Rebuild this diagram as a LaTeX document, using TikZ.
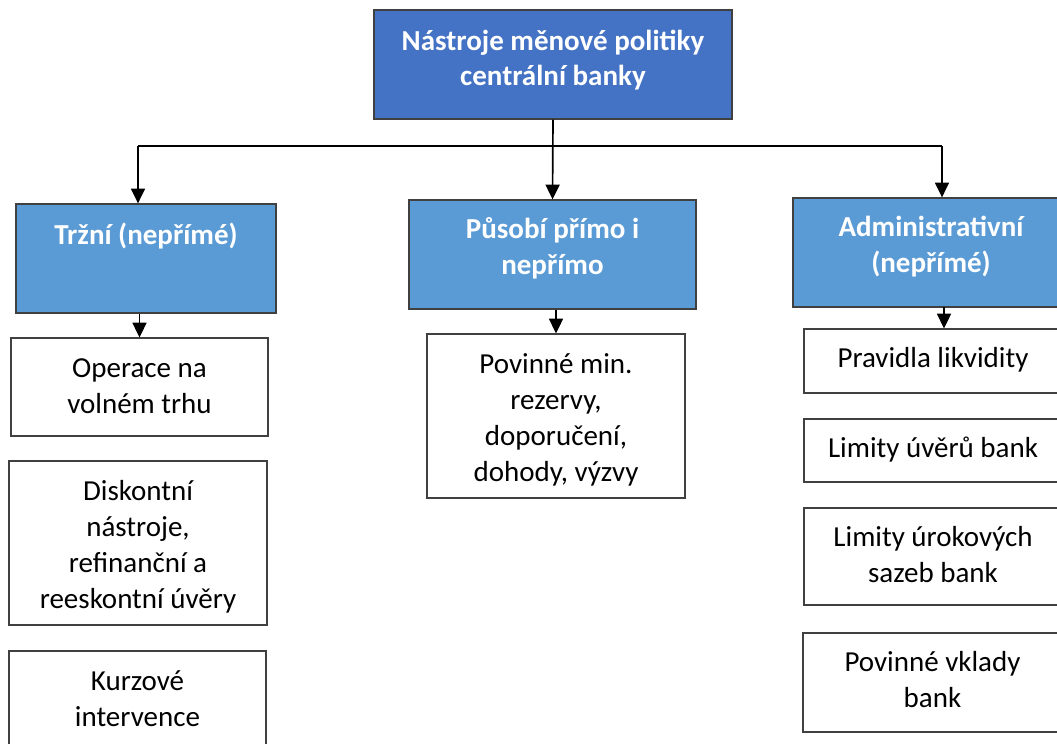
\documentclass[tikz,border=0pt]{standalone}
\usepackage{fontspec}
\setmainfont{Carlito}
\usetikzlibrary{arrows.meta,fit}
\definecolor{topblue}{HTML}{4472C4}
\definecolor{midblue}{HTML}{5B9BD5}
\definecolor{edgegray}{HTML}{404040}
\newcommand\bx[8]{%
  \path (#3,#4) coordinate (#1nw) (#5,#6) coordinate (#1se);
  \node[#2, fit=(#1nw)(#1se)] (#1) {};
  \node[#2text, anchor=base] (#1t) at ([yshift=-#7*0.75pt]#1.north)
    {\parbox[t]{300pt}{\centering #8}};
}
\begin{document}
\begin{tikzpicture}[x=0.75pt,y=-0.75pt,
  topbox/.style={draw=edgegray, line width=1pt, fill=topblue, inner sep=0pt},
  bluebox/.style={draw=edgegray, line width=1pt, fill=midblue, inner sep=0pt},
  whitebox/.style={draw=edgegray, line width=0.9pt, fill=white, inner sep=0pt},
  topboxtext/.style={inner sep=0pt, text=white, font=\fontsize{21.75pt}{26pt}\selectfont\bfseries},
  blueboxtext/.style={inner sep=0pt, text=white, font=\fontsize{21.75pt}{26.6pt}\selectfont\bfseries},
  whiteboxtext/.style={inner sep=0pt, text=black, font=\fontsize{21.75pt}{27pt}\selectfont},
  conn/.style={line width=1.25pt, black},
  arr/.style={conn, -{Triangle[width=10.5pt,length=11pt]}}
  ]
\useasboundingbox (0,0) rectangle (1057,743);
\begin{scope}
\clip (0,0) rectangle (1057,743);
\bx{T}{topbox}{374}{10}{732}{119}{41.5}{Nástroje měnové politiky\\centrální banky}
\bx{L}{bluebox}{16}{204}{276}{313}{41.5}{Tržní (nepřímé)}
\bx{M}{bluebox}{409}{200}{696}{309}{39.5}{Působí přímo i\\nepřímo}
\bx{R}{bluebox}{793}{198}{1069}{307}{39.5}{Administrativní\\(nepřímé)}
\bx{LA}{whitebox}{11}{338}{268}{436}{40}{Operace na\\volném trhu}
\bx{LB}{whitebox}{9}{461}{267}{625}{40}{Diskontní\\nástroje,\\refinanční a\\reeskontní úvěry}
\bx{LC}{whitebox}{9}{651}{266}{760}{40}{Kurzové\\intervence}
\bx{MA}{whitebox}{427}{334}{685}{498}{40.5}{Povinné min.\\rezervy,\\doporučení,\\dohody, výzvy}
\bx{RA}{whitebox}{804}{329}{1062}{393}{39.5}{Pravidla likvidity}
\bx{RB}{whitebox}{804}{419}{1062}{482}{39}{Limity úvěrů bank}
\bx{RC}{whitebox}{804}{508}{1062}{605}{39}{Limity úrokových\\sazeb bank}
\bx{RD}{whitebox}{803}{633}{1062}{732}{39}{Povinné vklady\\bank}
\end{scope}
\coordinate (cL) at (138,146);
\coordinate (cR) at (942,146);
\coordinate (dR) at (944,307);
\draw[conn] (cL) -- (cR);
\draw[arr] (T.south) -- (M.north);
\draw[arr] (cL) -- (cL |- L.north);
\draw[arr] (cR) -- (cR |- R.north);
\draw[arr] (L.south -| LA.north) -- (LA.north);
\draw[arr] (MA.north |- M.south) -- (MA.north);
\draw[arr] (dR) -- (dR |- RA.north);
\end{tikzpicture}
\end{document}
